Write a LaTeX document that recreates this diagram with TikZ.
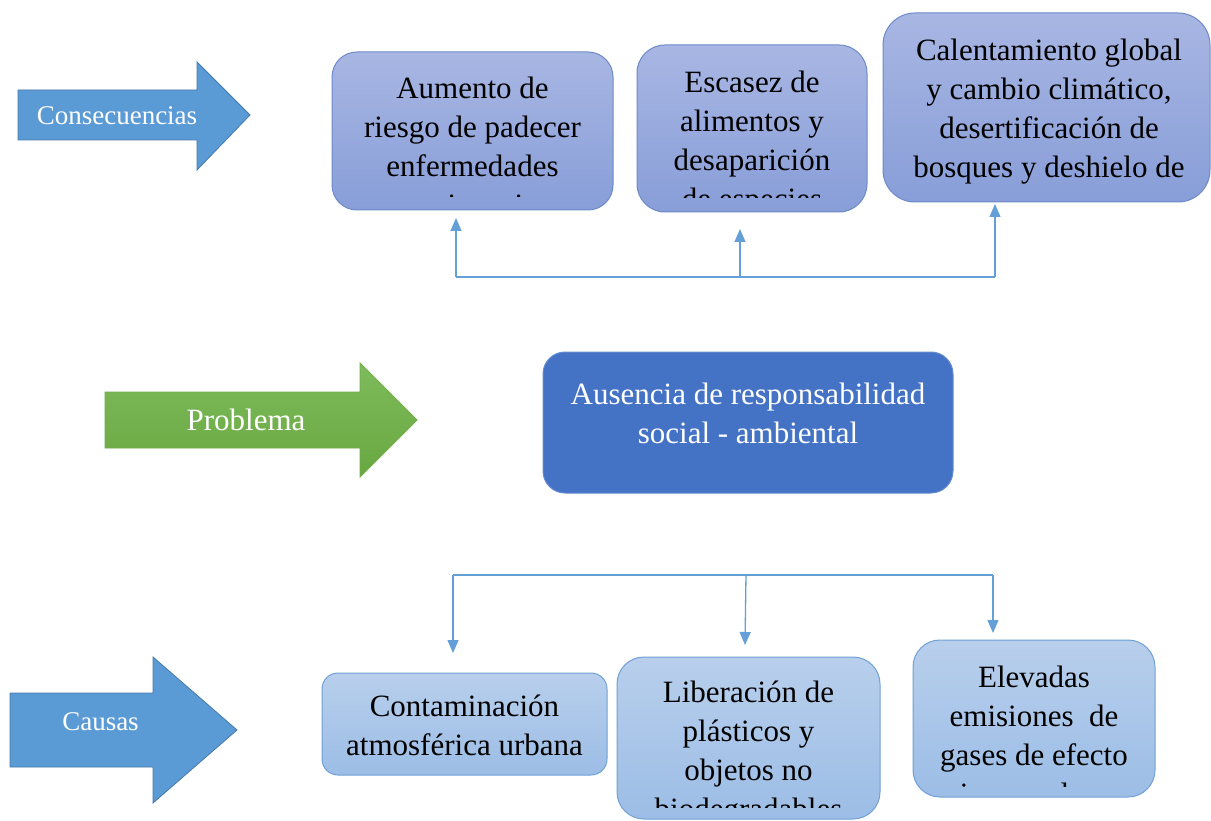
\documentclass[tikz,border=0pt]{standalone}
\usepackage{fontspec}
\setmainfont{Liberation Serif}
\usetikzlibrary{arrows.meta}
\definecolor{arrowblue}{RGB}{91,155,213}
\definecolor{arrowblueborder}{RGB}{70,120,170}
\definecolor{greentop}{RGB}{126,187,92}
\definecolor{greenbot}{RGB}{104,168,64}
\definecolor{greenborder}{RGB}{112,173,71}
\definecolor{conbluetop}{RGB}{168,182,227}
\definecolor{conbluebot}{RGB}{136,158,216}
\definecolor{conborder}{RGB}{108,138,200}
\definecolor{caubluetop}{RGB}{184,207,236}
\definecolor{caubluebot}{RGB}{156,189,230}
\definecolor{cauborder}{RGB}{112,160,214}
\definecolor{probfill}{RGB}{68,114,196}
\definecolor{probborder}{RGB}{100,140,210}
\definecolor{linkblue}{RGB}{100,160,215}
\begin{document}
\begin{tikzpicture}[x=1pt,y=-1pt,
  conbox/.style={draw=conborder, line width=1pt, top color=conbluetop, bottom color=conbluebot, inner sep=0},
  caubox/.style={draw=cauborder, line width=1pt, top color=caubluetop, bottom color=caubluebot, inner sep=0},
  probbox/.style={draw=probborder, line width=1pt, fill=probfill, inner sep=0, rounded corners=22pt},
  boxtext/.style={font=\fontsize{31}{39}\selectfont, align=center, inner sep=0, anchor=north},
  arrowlabel/.style={text=white, inner sep=0, anchor=base},
  bluearrow/.style={fill=arrowblue, draw=arrowblueborder, line width=0.8pt, line join=miter},
  greenarrow/.style={top color=greentop, bottom color=greenbot, draw=greenborder, line width=0.8pt},
  link/.style={draw=linkblue, line width=1.3pt},
  linkarrow/.style={link, -{Triangle[length=13pt,width=11pt]}}
]
\useasboundingbox[fill=white] (0,0) rectangle (1211,821);

% ---- big arrows ----
\draw[bluearrow] (18,90) -- (197,90) -- (197,62) -- (250,115) -- (197,170) -- (197,140) -- (18,140) -- cycle;
\node[arrowlabel, font=\fontsize{27}{32}\selectfont] (lcons) at (117,125) {Consecuencias};

\draw[greenarrow] (105,392) -- (360,392) -- (360,363) -- (417,420) -- (360,477) -- (360,448) -- (105,448) -- cycle;
\node[arrowlabel, font=\fontsize{31}{36}\selectfont] (lprob) at (246,430) {Problema};

\draw[bluearrow] (10,693) -- (153,693) -- (153,657) -- (237,730) -- (153,803) -- (153,767) -- (10,767) -- cycle;
\node[arrowlabel, font=\fontsize{27}{32}\selectfont] (lcaus) at (100.5,730) {Causas};

% ---- consequence boxes ----
\node[conbox, rounded corners=25pt, minimum width=281pt, minimum height=158pt] (c1) at (472.5,131) {};
\begin{scope}
\clip (332,52) rectangle (613,196.5);
\node[boxtext] (t1) at (472.5,70.7) {\strut Aumento de\\riesgo de padecer\\enfermedades\\respiratorias};
\end{scope}

\node[conbox, rounded corners=28pt, minimum width=230pt, minimum height=167pt] (c2) at (752,128.5) {};
\begin{scope}
\clip (637,45) rectangle (867,197.5);
\node[boxtext] (t2) at (752,64.7) {\strut Escasez de\\alimentos y\\desaparición\\de especies};
\end{scope}

\node[conbox, rounded corners=32pt, minimum width=327pt, minimum height=189pt] (c3) at (1046.5,107.5) {};
\node[boxtext] (t3) at (1049,32.7) {\strut Calentamiento global\\y cambio climático,\\desertificación de\\bosques y deshielo de};

% ---- problem box ----
\node[probbox, minimum width=410pt, minimum height=141pt] (p) at (748,422.5) {};
\node[boxtext, text=white] (tp) at (748,376.7) {\strut Ausencia de responsabilidad\\social - ambiental};

% ---- cause boxes ----
\node[caubox, rounded corners=16pt, minimum width=285pt, minimum height=102pt] (k1) at (464.5,724) {};
\node[boxtext] (u1) at (464.5,688.7) {\strut Contaminación\\atmosférica urbana};

\node[caubox, rounded corners=27pt, minimum width=263pt, minimum height=162pt] (k2) at (748.5,738) {};
\begin{scope}
\clip (617,657) rectangle (880,807);
\node[boxtext] (u2) at (748.5,674.7) {\strut Liberación de\\plásticos y\\objetos no\\biodegradables};
\end{scope}

\node[caubox, rounded corners=27pt, minimum width=242pt, minimum height=157pt] (k3) at (1034,718.5) {};
\begin{scope}
\clip (913,640) rectangle (1155,786);
\node[boxtext] (u3) at (1034,659.7) {\strut Elevadas\\emisiones\ \ de\\gases de efecto\\invernadero};
\end{scope}

% ---- connectors (consequences) ----
\coordinate (tl) at (456,277);
\coordinate (tm) at (740,277);
\coordinate (tr) at (995,277);
\coordinate (el) at (456,218);
\coordinate (em) at (740,229);
\coordinate (er) at (995,204);
\draw[link] (tl) -- (tr);
\draw[linkarrow] (tl) -- (el);
\draw[linkarrow] (tm) -- (em);
\draw[linkarrow] (tr) -- (er);

% ---- connectors (causes) ----
\coordinate (bl) at (453,575);
\coordinate (bm) at (746,575);
\coordinate (br) at (993,575);
\coordinate (fl) at (453,653);
\coordinate (fm) at (745,645);
\coordinate (fr) at (993,633);
\draw[link] (bl) -- (br);
\draw[linkarrow] (bl) -- (fl);
\draw[linkarrow] (bm) -- (fm);
\draw[linkarrow] (br) -- (fr);
\end{tikzpicture}
\end{document}
